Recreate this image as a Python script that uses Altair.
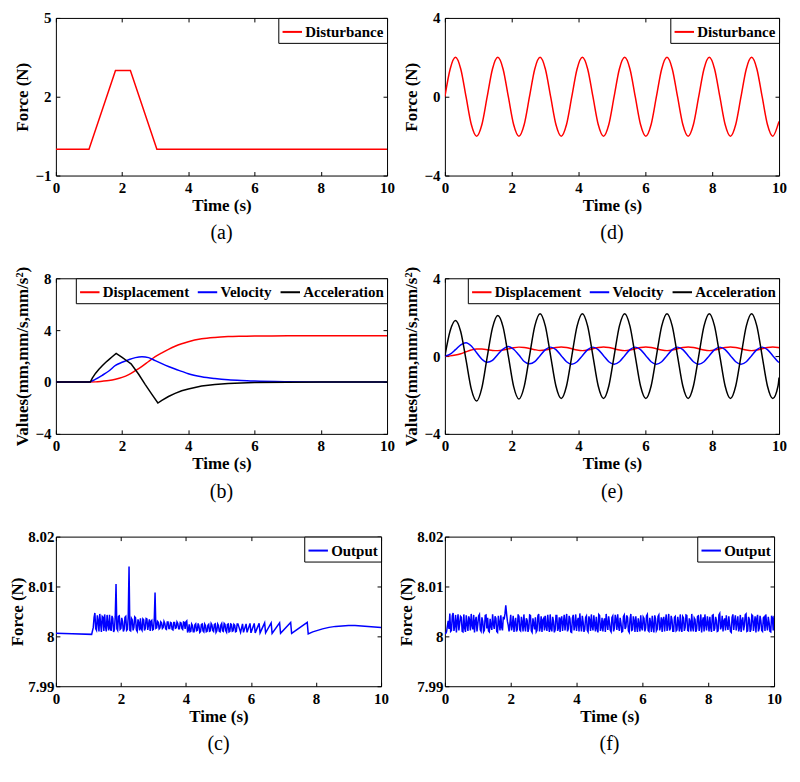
import altair as alt
import pandas as pd

FONT = "'Times New Roman', 'Liberation Serif', 'DejaVu Serif', serif"
X_TICKS = [0, 2, 4, 6, 8, 10]

# ---------------- (a) trapezoidal disturbance ----------------
a_time = [0, 1.0, 1.8, 2.25, 3.05, 10]
a_force = [0, 0, 3, 3, 0, 0]

# ---------------- (d) sinusoidal disturbance ----------------
d_time = [0.000, 0.158, 0.317, 0.475, 0.633, 0.791, 0.950, 1.108,
          1.266, 1.424, 1.583, 1.741, 1.899, 2.057, 2.216, 2.374,
          2.532, 2.690, 2.849, 3.007, 3.165, 3.323, 3.482, 3.640,
          3.798, 3.956, 4.115, 4.273, 4.431, 4.589, 4.748, 4.906,
          5.064, 5.222, 5.381, 5.539, 5.697, 5.855, 6.014, 6.172,
          6.330, 6.488, 6.647, 6.805, 6.963, 7.121, 7.280, 7.438,
          7.596, 7.754, 7.913, 8.071, 8.229, 8.387, 8.546, 8.704,
          8.862, 9.020, 9.179, 9.337, 9.495, 9.653, 9.812, 9.970, 10.0]
d_force = [0, 1.41, 2, 1.41, 0, -1.41, -2, -1.41,
           0, 1.41, 2, 1.41, 0, -1.41, -2, -1.41,
           0, 1.41, 2, 1.41, 0, -1.41, -2, -1.41,
           0, 1.41, 2, 1.41, 0, -1.41, -2, -1.41,
           0, 1.41, 2, 1.41, 0, -1.41, -2, -1.41,
           0, 1.41, 2, 1.41, 0, -1.41, -2, -1.41,
           0, 1.41, 2, 1.41, 0, -1.41, -2, -1.41,
           0, 1.41, 2, 1.41, 0, -1.41, -2, -1.41, -1.25]

# ---------------- (b) response to trapezoid ----------------
b_time = [0, 1.0, 1.2, 1.4, 1.6, 1.8, 2.0, 2.2, 2.4, 2.6, 2.8, 3.0, 3.2,
          3.4, 3.6, 3.8, 4.0, 4.4, 4.8, 5.2, 5.6, 6.0, 7.0, 8.0, 10.0]
b_disp = [0, 0, 0.01, 0.06, 0.12, 0.22, 0.36, 0.57, 0.87, 1.2, 1.58, 1.95, 2.25,
          2.52, 2.76, 2.95, 3.11, 3.33, 3.44, 3.5, 3.53, 3.55, 3.56, 3.57, 3.57]
b_vel = [0, 0, 0.22, 0.52, 0.85, 1.28, 1.52, 1.72, 1.88, 1.95, 1.88, 1.65, 1.42,
         1.2, 1.0, 0.82, 0.64, 0.41, 0.27, 0.17, 0.11, 0.07, 0.02, 0.0, 0.0]
b_acc_time = [0, 1.04, 1.1, 1.2, 1.3, 1.4, 1.5, 1.6, 1.7, 1.82, 2.0, 2.15, 2.27,
              2.5, 2.7, 2.9, 3.08, 3.2, 3.4, 3.6, 3.8, 4.0, 4.4, 4.8, 5.2, 5.6,
              6.0, 7.0, 8.0, 10.0]
b_acc = [0, 0, 0.3, 0.68, 0.98, 1.25, 1.5, 1.73, 1.95, 2.21, 1.9, 1.62, 1.4,
         0.6, -0.2, -0.95, -1.62, -1.42, -1.12, -0.88, -0.68, -0.54, -0.31, -0.19,
         -0.11, -0.07, -0.04, -0.01, 0, 0]

# ---------------- (e) response to sinusoid ----------------
e_time = d_time
e_acc = [0, 1.30, 1.83, 1.25, -0.20, -1.70, -2.31, -1.62,
         -0.05, 1.45, 2.09, 1.50, 0.00, -1.56, -2.21, -1.56,
         0.00, 1.54, 2.18, 1.54, 0.00, -1.54, -2.18, -1.54,
         0.00, 1.54, 2.18, 1.54, 0.00, -1.54, -2.18, -1.54,
         0.00, 1.54, 2.18, 1.54, 0.00, -1.54, -2.18, -1.54,
         0.00, 1.54, 2.18, 1.54, 0.00, -1.54, -2.18, -1.54,
         0.00, 1.54, 2.18, 1.54, 0.00, -1.54, -2.18, -1.54,
         0.00, 1.54, 2.18, 1.54, 0.00, -1.54, -2.18, -1.54, -1.1]
e_vel = [0.00, 0.10, 0.33, 0.58, 0.69, 0.52, 0.17, -0.16,
         -0.32, -0.22, 0.08, 0.36, 0.49, 0.35, 0.05, -0.28,
         -0.40, -0.29, 0.02, 0.33, 0.46, 0.33, 0.02, -0.29,
         -0.42, -0.29, 0.02, 0.33, 0.46, 0.33, 0.02, -0.29,
         -0.42, -0.29, 0.02, 0.33, 0.46, 0.33, 0.02, -0.29,
         -0.42, -0.29, 0.02, 0.33, 0.46, 0.33, 0.02, -0.29,
         -0.42, -0.29, 0.02, 0.33, 0.46, 0.33, 0.02, -0.29,
         -0.42, -0.29, 0.02, 0.33, 0.46, 0.33, 0.02, -0.29, -0.33]
e_disp = [0.00, 0.01, 0.05, 0.12, 0.22, 0.31, 0.36, 0.36,
          0.33, 0.29, 0.28, 0.31, 0.37, 0.43, 0.46, 0.44,
          0.39, 0.33, 0.29, 0.31, 0.375, 0.44, 0.47, 0.44,
          0.375, 0.31, 0.28, 0.31, 0.375, 0.44, 0.47, 0.44,
          0.375, 0.31, 0.28, 0.31, 0.375, 0.44, 0.47, 0.44,
          0.375, 0.31, 0.28, 0.31, 0.375, 0.44, 0.47, 0.44,
          0.375, 0.31, 0.28, 0.31, 0.375, 0.44, 0.47, 0.44,
          0.375, 0.31, 0.28, 0.31, 0.375, 0.44, 0.47, 0.44, 0.43]

# ---------------- (c) output force, trapezoid case ----------------
c_flat_time = [0, 0.5, 1.1]
c_flat_force = [8.0006, 8.0005, 8.0004]
c_noise_force = [
    8.0018, 8.0038, 8.0047, 8.0015, 8.0012, 8.0042, 8.0031, 8.0010, 8.0045, 8.0026,
    8.0009, 8.0040, 8.0038, 8.0011, 8.0044, 8.0020, 8.0010, 8.0043, 8.0024, 8.0012,
    8.0043, 8.0016, 8.0011, 8.0041, 8.0036, 8.0009, 8.0013, 8.0039, 8.0105, 8.0015,
    8.0012, 8.0040, 8.0041, 8.0014, 8.0016, 8.0037, 8.0030, 8.0010, 8.0014, 8.0038,
    8.0040, 8.0012, 8.0014, 8.0038, 8.0140, 8.0012, 8.0011, 8.0036, 8.0033, 8.0012,
    8.0018, 8.0039, 8.0037, 8.0013, 8.0010, 8.0034, 8.0027, 8.0012, 8.0036, 8.0015,
    8.0012, 8.0035, 8.0033, 8.0012, 8.0016, 8.0036, 8.0035, 8.0013, 8.0024, 8.0034,
    8.0011, 8.0030, 8.0032, 8.0013, 8.0014, 8.0033, 8.0088, 8.0016, 8.0017, 8.0030,
    8.0028, 8.0015, 8.0017, 8.0029, 8.0027, 8.0016, 8.0018, 8.0030, 8.0026, 8.0015,
    8.0014, 8.0029, 8.0029, 8.0016, 8.0016, 8.0028, 8.0027, 8.0014, 8.0013, 8.0028,
    8.0028, 8.0016, 8.0017, 8.0029, 8.0026, 8.0015, 8.0015, 8.0028, 8.0027, 8.0016,
    8.0014, 8.0029, 8.0028, 8.0015, 8.0029, 8.0031, 8.0008, 8.0012, 8.0024, 8.0009,
    8.0010, 8.0025, 8.0022, 8.0009, 8.0009, 8.0023, 8.0025, 8.0011, 8.0012, 8.0026,
    8.0021, 8.0008, 8.0010, 8.0024, 8.0025, 8.0011, 8.0009, 8.0025, 8.0022, 8.0009,
    8.0010, 8.0022, 8.0024, 8.0010, 8.0011, 8.0026, 8.0023, 8.0012, 8.0010, 8.0024,
    8.0025, 8.0008, 8.0011, 8.0025, 8.0022, 8.0010, 8.0009, 8.0023, 8.0026, 8.0011,
    8.0010, 8.0026, 8.0024, 8.0011, 8.0008, 8.0024, 8.0025, 8.0009, 8.0010, 8.0025,
    8.0024, 8.0010, 8.0011, 8.0024, 8.0022, 8.0009, 8.0010, 8.0025, 8.0025]
c_noise_time = [round(1.15 + 0.025 * i, 3) for i in range(len(c_noise_force))]
c_tail_time = [5.68, 5.74, 5.77, 5.85, 5.88, 5.97, 6.00, 6.10, 6.13, 6.25,
               6.28, 6.42, 6.45, 6.62, 6.65, 6.88, 6.91, 7.22, 7.25, 7.73,
               7.76, 7.9, 8.0, 8.2, 8.4, 8.6, 8.8, 9.0, 9.2, 9.4, 9.6, 9.8, 10.0]
c_tail_force = [8.0008, 8.0025, 8.0008, 8.0025, 8.0008, 8.0026, 8.0007, 8.0026, 8.0007, 8.0026,
                8.0007, 8.0027, 8.0007, 8.0027, 8.0006, 8.0027, 8.0006, 8.0028, 8.0006, 8.0028,
                8.0005, 8.0009, 8.0011, 8.0015, 8.0018, 8.0020, 8.0021, 8.0022, 8.0022, 8.0021,
                8.0020, 8.0019, 8.0018]

# ---------------- (f) output force, sinusoid case ----------------
f_force = [
    8.0005, 8.0006, 8.0009, 8.0020, 8.0031, 8.0015, 8.0046, 8.0010, 8.0012, 8.0041,
    8.0047, 8.0011, 8.0021, 8.0043, 8.0008, 8.0030, 8.0044, 8.0012, 8.0026, 8.0040,
    8.0038, 8.0010, 8.0009, 8.0044, 8.0017, 8.0009, 8.0042, 8.0025, 8.0011, 8.0040,
    8.0033, 8.0012, 8.0045, 8.0022, 8.0014, 8.0043, 8.0008, 8.0031, 8.0039, 8.0010,
    8.0024, 8.0041, 8.0044, 8.0013, 8.0010, 8.0038, 8.0030, 8.0009, 8.0012, 8.0042,
    8.0043, 8.0016, 8.0037, 8.0011, 8.0009, 8.0035, 8.0020, 8.0013, 8.0044, 8.0024,
    8.0015, 8.0040, 8.0036, 8.0010, 8.0008, 8.0041, 8.0027, 8.0012, 8.0042, 8.0018,
    8.0012, 8.0039, 8.0034, 8.0045, 8.0062, 8.0045, 8.0030, 8.0022, 8.0010, 8.0026,
    8.0043, 8.0012, 8.0022, 8.0041, 8.0009, 8.0027, 8.0037, 8.0010, 8.0014, 8.0044,
    8.0040, 8.0013, 8.0011, 8.0039, 8.0028, 8.0010, 8.0044, 8.0021, 8.0010, 8.0036,
    8.0032, 8.0009, 8.0016, 8.0043, 8.0042, 8.0011, 8.0008, 8.0036, 8.0025, 8.0014,
    8.0038, 8.0009, 8.0012, 8.0041, 8.0045, 8.0010, 8.0019, 8.0040, 8.0009, 8.0033,
    8.0036, 8.0012, 8.0041, 8.0020, 8.0011, 8.0043, 8.0023, 8.0009, 8.0044, 8.0015,
    8.0010, 8.0039, 8.0030, 8.0008, 8.0013, 8.0042, 8.0042, 8.0011, 8.0017, 8.0038,
    8.0009, 8.0035, 8.0040, 8.0011, 8.0027, 8.0043, 8.0012, 8.0030, 8.0045, 8.0010,
    8.0015, 8.0041, 8.0035, 8.0009, 8.0008, 8.0037, 8.0043, 8.0012, 8.0022, 8.0044,
    8.0011, 8.0030, 8.0037, 8.0010, 8.0046, 8.0024, 8.0010, 8.0041, 8.0029, 8.0009,
    8.0014, 8.0038, 8.0041, 8.0012, 8.0009, 8.0040, 8.0033, 8.0011, 8.0044, 8.0020,
    8.0012, 8.0042, 8.0024, 8.0010, 8.0039, 8.0016, 8.0008, 8.0044, 8.0042, 8.0011,
    8.0018, 8.0037, 8.0010, 8.0029, 8.0036, 8.0009, 8.0045, 8.0026, 8.0013, 8.0040,
    8.0028, 8.0012, 8.0009, 8.0038, 8.0041, 8.0010, 8.0016, 8.0043, 8.0034, 8.0013,
    8.0044, 8.0021, 8.0011, 8.0037, 8.0026, 8.0009, 8.0010, 8.0040, 8.0043, 8.0015,
    8.0019, 8.0042, 8.0038, 8.0011, 8.0008, 8.0035, 8.0045, 8.0012, 8.0013, 8.0040,
    8.0031, 8.0009, 8.0040, 8.0022, 8.0009, 8.0036, 8.0024, 8.0010, 8.0042, 8.0018,
    8.0012, 8.0039, 8.0036, 8.0010, 8.0017, 8.0041, 8.0044, 8.0012, 8.0010, 8.0037,
    8.0027, 8.0009, 8.0041, 8.0020, 8.0008, 8.0042, 8.0035, 8.0011, 8.0014, 8.0040,
    8.0043, 8.0012, 8.0021, 8.0038, 8.0009, 8.0033, 8.0039, 8.0010, 8.0030, 8.0044,
    8.0011, 8.0025, 8.0045, 8.0012, 8.0016, 8.0041, 8.0033, 8.0010, 8.0010, 8.0038,
    8.0040, 8.0011, 8.0013, 8.0039, 8.0026, 8.0010, 8.0044, 8.0017, 8.0009, 8.0040,
    8.0037, 8.0011, 8.0018, 8.0043, 8.0042, 8.0012, 8.0011, 8.0036, 8.0029, 8.0010,
    8.0045, 8.0019, 8.0010, 8.0037, 8.0034, 8.0009, 8.0015, 8.0040, 8.0041, 8.0011,
    8.0023, 8.0044, 8.0008, 8.0030, 8.0038, 8.0010, 8.0044, 8.0024, 8.0012, 8.0040,
    8.0027, 8.0010, 8.0039, 8.0018, 8.0009, 8.0042, 8.0043, 8.0011, 8.0016, 8.0039,
    8.0032, 8.0010, 8.0011, 8.0043, 8.0046, 8.0014, 8.0020, 8.0041, 8.0010, 8.0031,
    8.0036, 8.0012, 8.0042, 8.0023, 8.0013, 8.0040, 8.0025, 8.0010, 8.0008, 8.0038,
    8.0044, 8.0013, 8.0030, 8.0042, 8.0012, 8.0027, 8.0040, 8.0010, 8.0017, 8.0043,
    8.0009, 8.0031, 8.0038, 8.0012, 8.0022, 8.0043, 8.0045, 8.0010, 8.0011, 8.0039,
    8.0034, 8.0009, 8.0014, 8.0043, 8.0041, 8.0011, 8.0026, 8.0040, 8.0008, 8.0035,
    8.0043, 8.0010, 8.0016, 8.0041, 8.0031, 8.0012, 8.0010, 8.0037, 8.0039, 8.0011,
    8.0044, 8.0024, 8.0012, 8.0039, 8.0028, 8.0010, 8.0009, 8.0041, 8.0037, 8.0012,
    8.0041]
f_time = [round(0.025 * i, 3) for i in range(len(f_force))]

RESP_NAMES = ["Displacement", "Velocity", "Acceleration"]
RESP_COLORS = ["#ff0000", "#0000ff", "#000000"]


def frame(t, v, s):
    return pd.DataFrame({"t": t, "v": v, "s": [s] * len(t)})


def legend(direction):
    return alt.Legend(title=None, orient="top-right", direction=direction, offset=0,
                      strokeColor="black", fillColor="white", padding=3, cornerRadius=0,
                      symbolType="stroke", symbolSize=380, symbolStrokeWidth=2,
                      labelFont=FONT, labelFontWeight="bold", labelFontSize=15,
                      labelColor="black", labelOffset=2, columnPadding=4)


def xs(main=True):
    sc = alt.Scale(domain=[0, 10], nice=False, zero=False)
    if main is None:
        return alt.X("t:Q", scale=sc, axis=None)
    if main:
        ax = alt.Axis(values=X_TICKS, title="Time (s)", format="d", titlePadding=2)
    else:
        ax = alt.Axis(values=X_TICKS, orient="top", labels=False, title=None)
    return alt.X("t:Q", scale=sc, axis=ax)


def ys(domain, ticks, title, main=True, fmt="d", lpad=5, tpad=3):
    sc = alt.Scale(domain=domain, nice=False, zero=False)
    if main is None:
        return alt.Y("v:Q", scale=sc, axis=None)
    if main:
        ax = alt.Axis(values=ticks, title=title, format=fmt, labelPadding=lpad, titlePadding=tpad)
    else:
        ax = alt.Axis(values=ticks, orient="right", labels=False, title=None)
    return alt.Y("v:Q", scale=sc, axis=ax)


def panel(frames_interp, domain, ticks, ytitle, names, colors, direction, w, h, caption,
          fmt="d", lpad=5, tpad=3):
    layers = []
    for i, (df, interp) in enumerate(frames_interp):
        main = True if i == 0 else None
        layers.append(
            alt.Chart(df).mark_line(strokeWidth=1.5, interpolate=interp, clip=True).encode(
                x=xs(main), y=ys(domain, ticks, ytitle, main, fmt, lpad, tpad),
                color=alt.Color("s:N", scale=alt.Scale(domain=names, range=colors),
                                legend=legend(direction)),
            )
        )
    alldf = pd.concat([f for f, _ in frames_interp])
    mirror = alt.Chart(alldf).mark_line(opacity=0).encode(
        x=xs(False), y=ys(domain, ticks, ytitle, False))
    return alt.layer(*layers, mirror).resolve_axis(x="independent", y="independent").properties(
        width=w, height=h,
        title=alt.TitleParams(text=caption, orient="bottom", font=FONT, fontSize=20,
                              fontWeight="normal", color="black", offset=10))


pa = panel([(frame(a_time, a_force, "Disturbance"), "linear")], [-1, 5], [-1, 2, 5],
           "Force (N)", ["Disturbance"], ["#ff0000"], "vertical", 332, 158, "(a)")
pd_ = panel([(frame(d_time, d_force, "Disturbance"), "monotone")], [-4, 4], [-4, 0, 4],
            "Force (N)", ["Disturbance"], ["#ff0000"], "vertical", 335, 158, "(d)")
pb = panel([(pd.concat([frame(b_time, b_disp, "Displacement"), frame(b_time, b_vel, "Velocity")]), "monotone"),
            (frame(b_acc_time, b_acc, "Acceleration"), "linear")],
           [-4, 8], [-4, 0, 4, 8], "Values(mm,mm/s,mm/s²)", RESP_NAMES, RESP_COLORS,
           "horizontal", 332, 156, "(b)")
pe = panel([(pd.concat([frame(e_time, e_disp, "Displacement"), frame(e_time, e_vel, "Velocity"),
                        frame(e_time, e_acc, "Acceleration")]), "monotone")],
           [-4, 4], [-4, 0, 4], "Values(mm,mm/s,mm/s²)", RESP_NAMES, RESP_COLORS,
           "horizontal", 335, 156, "(e)")
pc = panel([(pd.concat([frame(c_flat_time, c_flat_force, "Output"),
                        frame(c_noise_time, c_noise_force, "Output"),
                        frame(c_tail_time, c_tail_force, "Output")]), "linear")],
           [7.99, 8.02], [7.99, 8.0, 8.01, 8.02], "Force (N)", ["Output"], ["#0000ff"],
           "vertical", 326, 150, "(c)", fmt="~g", lpad=2, tpad=1)
pf = panel([(frame(f_time, f_force, "Output"), "linear")],
           [7.99, 8.02], [7.99, 8.0, 8.01, 8.02], "Force (N)", ["Output"], ["#0000ff"],
           "vertical", 330, 150, "(f)", fmt="~g", lpad=2, tpad=1)

chart = alt.concat(
    pa, pd_, pb, pe, pc, pf, columns=2,
    spacing=alt.RowColnumber(row=103, column=58), bounds="flush"
).resolve_scale(
    color="independent"
).properties(
    padding={"left": 0, "top": 1, "right": 5, "bottom": 5}
).configure_view(
    stroke="black", strokeWidth=1
).configure_axis(
    labelFont=FONT, labelFontSize=15, labelFontWeight="bold", labelColor="black",
    titleFont=FONT, titleFontSize=17, titleFontWeight="bold", titleColor="black",
    grid=False, domain=False, tickColor="black", tickSize=4, tickWidth=1,
    offset=-4, labelPadding=5, titlePadding=3, labelFlush=False
)

chart.save("out.html", embed_options={"renderer": "svg", "actions": False})
